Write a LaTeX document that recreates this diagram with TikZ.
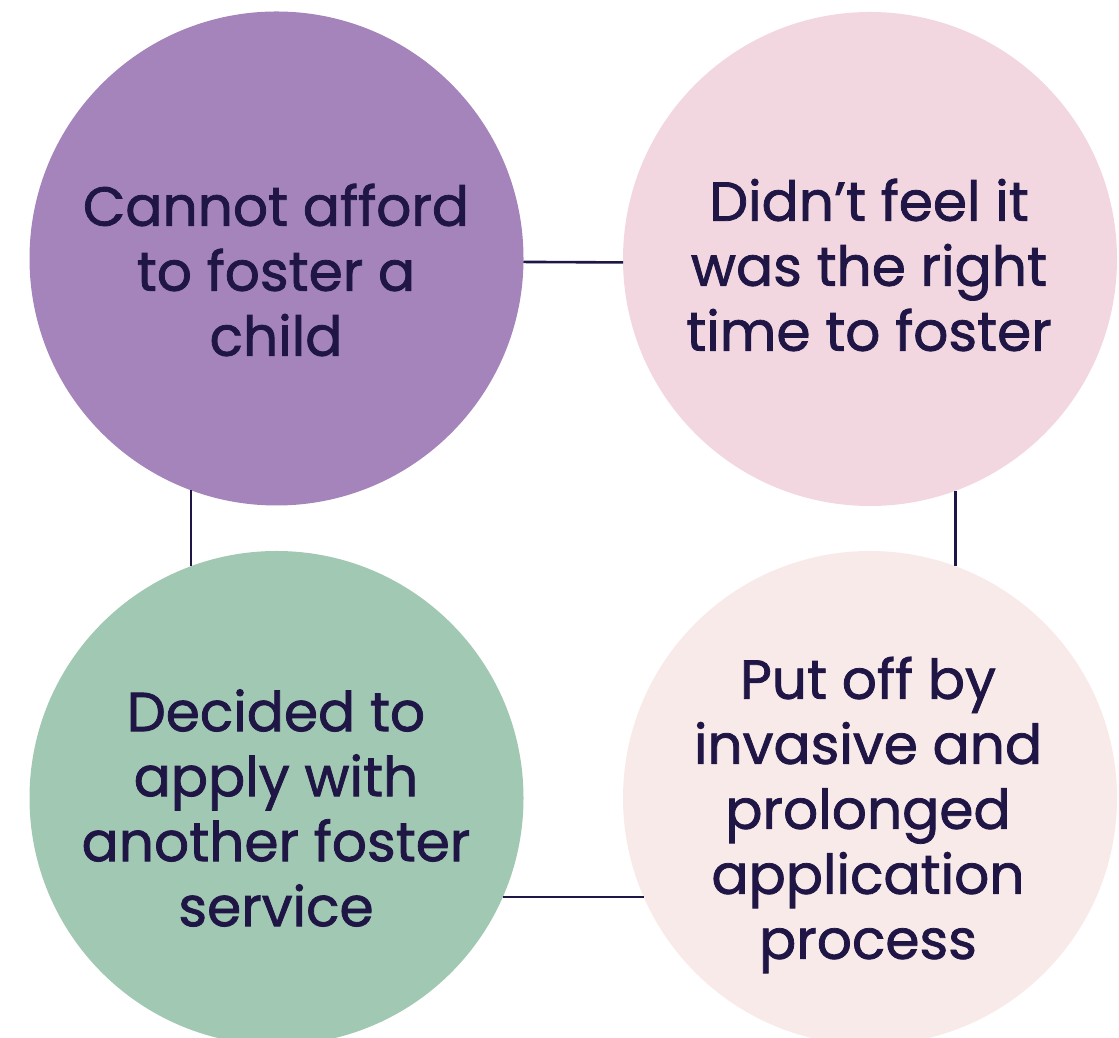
\documentclass[tikz,border=0pt]{standalone}
\usepackage{fontspec}
\setmainfont{Poppins}[FakeBold=1.4]
\definecolor{ink}{HTML}{1F1646}
\definecolor{purpleA}{HTML}{A484BB}
\definecolor{pinkA}{HTML}{F3D7E0}
\definecolor{greenA}{HTML}{A1C8B3}
\definecolor{blushA}{HTML}{F9EAEA}
\begin{document}
\begin{tikzpicture}[x=1pt,y=1pt,
  bubble/.style={circle,draw=none,minimum size=494pt,inner sep=0pt},
  label/.style={text=ink,align=center,font=\fontsize{55}{65}\selectfont},
  link/.style={draw=ink,line width=2.6pt}]
\useasboundingbox (0,0) rectangle (1119,1038);
\clip (0,0) rectangle (1119,1038);
% four circles
\node[bubble,fill=purpleA] (tl) at (276.5,779.5) {};
\node[bubble,fill=pinkA]   (tr) at (870,779) {};
\node[bubble,fill=greenA]  (bl) at (276.5,240) {};
\node[bubble,fill=blushA]  (br) at (870,240) {};
% connectors between neighbours, ending on the circle rims
\draw[link] ([shift={(-0.8:247)}]tl.center) -- ([shift={(180.8:247)}]tr.center);
\draw[link] ([shift={(249.7:247)}]tl.center) -- ([shift={(110.3:247)}]bl.center);
\draw[link] ([shift={(290.2:247)}]tr.center) -- ([shift={(69.8:247)}]br.center);
\draw[link] ([shift={(336.4:247)}]bl.center) -- ([shift={(203.6:247)}]br.center);
% texts
\node[label] (tltext) at (276,768) {Cannot afford\\to foster a\\child};
\node[label] (trtext) at (869,773) {Didn’t feel it\\was the right\\time to foster};
\node[label] (bltext) at (276,230) {Decided to\\apply with\\another foster\\service};
\node[label] (brtext) at (868,223) {Put off by\\invasive and\\prolonged\\application\\process};
\end{tikzpicture}
\end{document}
